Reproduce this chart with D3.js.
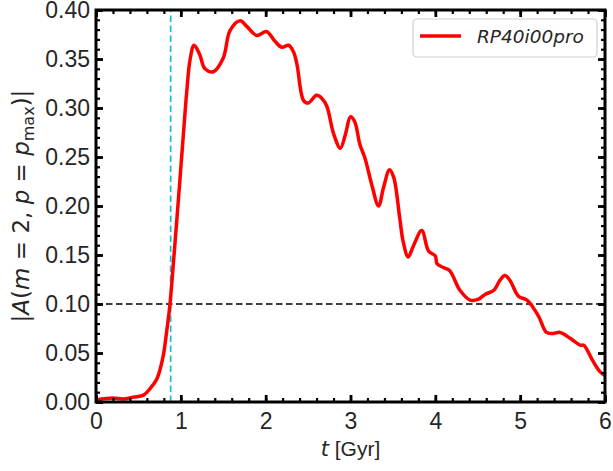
<!DOCTYPE html>
<html><head><meta charset="utf-8">
<script src="https://cdn.jsdelivr.net/npm/d3@7"></script>
<style>body{margin:0;background:#fff}</style>
</head><body>
<svg id="c" width="613" height="471"></svg>
<script>
const timeGyr = [0,0.2,0.32,0.44,0.56,0.64,0.72,0.79,0.83,0.87,0.92,0.97,1.03,1.07,1.11,1.156,1.22,1.285,1.383,1.50,1.58,1.70,1.78,1.895,2.01,2.11,2.19,2.27,2.33,2.37,2.445,2.50,2.60,2.66,2.72,2.80,2.88,2.94,3.00,3.05,3.11,3.17,3.25,3.33,3.39,3.46,3.51,3.58,3.62,3.68,3.74,3.84,3.92,4.00,4.02,4.10,4.17,4.29,4.41,4.51,4.59,4.69,4.76,4.82,4.88,4.98,5.08,5.14,5.22,5.31,5.39,5.47,5.59,5.71,5.75,5.85,5.94,6.0];
const amp = [0.002,0.004,0.003,0.005,0.007,0.014,0.024,0.046,0.07,0.098,0.15,0.205,0.273,0.317,0.35,0.364,0.355,0.340,0.337,0.351,0.379,0.389,0.383,0.374,0.378,0.368,0.362,0.364,0.357,0.344,0.308,0.305,0.313,0.310,0.302,0.274,0.259,0.273,0.291,0.286,0.263,0.249,0.222,0.200,0.219,0.237,0.229,0.188,0.164,0.148,0.159,0.175,0.154,0.149,0.141,0.137,0.134,0.114,0.104,0.105,0.110,0.114,0.124,0.129,0.124,0.108,0.104,0.098,0.087,0.071,0.070,0.071,0.065,0.058,0.058,0.043,0.031,0.027];
const xTicks = [0,1,2,3,4,5,6];
const yTicks = [0.00,0.05,0.10,0.15,0.20,0.25,0.30,0.35,0.40];
const barTime = 0.88;
const threshold = 0.10;
const seriesName = "RP40i00pro";

const svg = d3.select("#c");
const L=96,R=605,T=10,B=402;
const x = d3.scaleLinear().domain([0,6]).range([L,R]);
const y = d3.scaleLinear().domain([0,0.4]).range([B,T]);
const tickFont = "'Liberation Sans', Arial, sans-serif";
const txt = "#262626";

svg.append("clipPath").attr("id","clip").append("rect").attr("x",L).attr("y",T).attr("width",R-L).attr("height",B-T);
const g = svg.append("g").attr("clip-path","url(#clip)");

g.append("line").attr("x1",x(0)).attr("x2",x(6)).attr("y1",y(threshold)).attr("y2",y(threshold))
 .attr("stroke","#000").attr("stroke-width",1.7).attr("stroke-dasharray","6.5,3.5");
g.append("line").attr("x1",x(barTime)).attr("x2",x(barTime)).attr("y1",y(0)).attr("y2",y(0.4))
 .attr("stroke","#17becf").attr("stroke-width",1.7).attr("stroke-dasharray","6.5,3.5");

const data = timeGyr.map((t,i)=>[t,amp[i]]);
g.append("path").datum(data)
 .attr("d", d3.line().x(d=>x(d[0])).y(d=>y(d[1])).curve(d3.curveCatmullRom.alpha(0.5)))
 .attr("fill","none").attr("stroke","#ff0000").attr("stroke-width",3.5).attr("stroke-linejoin","round");

function styleAxis(sel){
  sel.select(".domain").remove();
  sel.selectAll(".tick line").attr("stroke","#000");
  sel.selectAll("text").attr("font-family",tickFont).attr("font-size",23).attr("fill",txt);
}
const xMinor = d3.range(0,6.0001,0.2);
const yMinor = d3.range(0,0.40001,0.01);
const axB = svg.append("g").attr("transform",`translate(0,${B})`);
axB.call(d3.axisBottom(x).tickValues(xMinor).tickSize(-4).tickFormat(""));
axB.selectAll(".tick line").attr("stroke-width",2.2);
axB.select(".domain").remove();
const axB2 = svg.append("g").attr("transform",`translate(0,${B})`);
axB2.call(d3.axisBottom(x).tickValues(xTicks).tickSizeInner(-7).tickSizeOuter(0).tickPadding(11).tickFormat(d3.format("d")));
styleAxis(axB2); axB2.selectAll(".tick line").attr("stroke-width",2.8);
axB2.selectAll("text").attr("dy","0.71em");
const axT = svg.append("g").attr("transform",`translate(0,${T})`);
axT.call(d3.axisTop(x).tickValues(xMinor).tickSize(-4).tickFormat(""));
axT.select(".domain").remove(); axT.selectAll(".tick line").attr("stroke-width",2.2);
const axT2 = svg.append("g").attr("transform",`translate(0,${T})`);
axT2.call(d3.axisTop(x).tickValues(xTicks).tickSize(-7).tickFormat(""));
axT2.select(".domain").remove(); axT2.selectAll(".tick line").attr("stroke-width",2.8);
const axL = svg.append("g").attr("transform",`translate(${L},0)`);
axL.call(d3.axisLeft(y).tickValues(yMinor).tickSize(-4).tickFormat(""));
axL.select(".domain").remove(); axL.selectAll(".tick line").attr("stroke-width",2.2);
const axL2 = svg.append("g").attr("transform",`translate(${L},0)`);
axL2.call(d3.axisLeft(y).tickValues(yTicks).tickSizeInner(-7).tickSizeOuter(0).tickPadding(6).tickFormat(d3.format(".2f")));
styleAxis(axL2); axL2.selectAll(".tick line").attr("stroke-width",2.8);
const axR = svg.append("g").attr("transform",`translate(${R},0)`);
axR.call(d3.axisRight(y).tickValues(yMinor).tickSize(-4).tickFormat(""));
axR.select(".domain").remove(); axR.selectAll(".tick line").attr("stroke-width",2.2);
const axR2 = svg.append("g").attr("transform",`translate(${R},0)`);
axR2.call(d3.axisRight(y).tickValues(yTicks).tickSize(-7).tickFormat(""));
axR2.select(".domain").remove(); axR2.selectAll(".tick line").attr("stroke-width",2.8);

svg.append("rect").attr("x",L).attr("y",T).attr("width",R-L).attr("height",B-T)
 .attr("fill","none").attr("stroke","#000").attr("stroke-width",3);

const xl = svg.append("text").attr("x",(L+R)/2).attr("y",456).attr("text-anchor","middle")
 .attr("font-family",tickFont).attr("font-size",21).attr("fill",txt);
xl.append("tspan").attr("font-family","'DejaVu Sans'").attr("font-style","italic").text("t");
xl.append("tspan").text(" [Gyr]");

const yl = svg.append("text").attr("transform",`translate(29,${(T+B)/2}) rotate(-90)`)
 .attr("text-anchor","middle").attr("font-family","'DejaVu Sans', sans-serif").attr("font-size",23).attr("fill",txt);
yl.append("tspan").text("|");
yl.append("tspan").attr("font-style","italic").text("A");
yl.append("tspan").text("(");
yl.append("tspan").attr("font-style","italic").text("m");
yl.append("tspan").text(" = 2, ");
yl.append("tspan").attr("font-style","italic").text("p");
yl.append("tspan").text(" = ");
yl.append("tspan").attr("font-style","italic").text("p");
yl.append("tspan").attr("font-size",16).attr("dy",5).text("max");
yl.append("tspan").attr("dy",-5).text(")|");

const lg = svg.append("g");
lg.append("rect").attr("x",413).attr("y",19).attr("width",184).attr("height",38).attr("rx",4)
 .attr("fill","#fff").attr("stroke","#d0d0d0").attr("stroke-width",1.2);
lg.append("line").attr("x1",420).attr("x2",461).attr("y1",36).attr("y2",36)
 .attr("stroke","#ff0000").attr("stroke-width",3.5);
lg.append("text").attr("x",477).attr("y",43).attr("font-family","'DejaVu Sans', sans-serif")
 .attr("font-style","italic").attr("font-size",18.5).attr("fill",txt).text(seriesName);
</script>
</body></html>
